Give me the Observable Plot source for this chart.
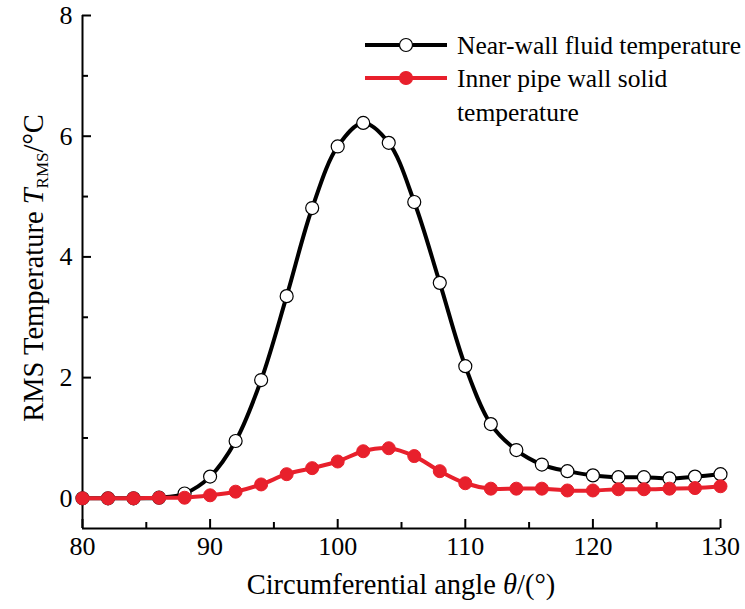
<!DOCTYPE html>
<html><head><meta charset="utf-8">
<script src="https://cdn.jsdelivr.net/npm/d3@7"></script>
<script src="https://cdn.jsdelivr.net/npm/@observablehq/plot@0.6"></script>
<style>
body{margin:0;background:#fff;}
#chart{position:relative;width:745px;height:609px;font-family:"Liberation Serif","Times New Roman",serif;}
</style></head><body><div id="chart"></div>
<script>
const angles = [80,82,84,86,88,90,92,94,96,98,100,102,104,106,108,110,112,114,116,118,120,122,124,126,128,130];
const fluidT = [0,0,0,0.01,0.08,0.36,0.95,1.96,3.35,4.81,5.83,6.22,5.89,4.91,3.57,2.19,1.23,0.80,0.56,0.45,0.38,0.35,0.35,0.33,0.36,0.40];
const solidT = [0,0,0,0.01,0.01,0.05,0.11,0.23,0.40,0.50,0.61,0.78,0.83,0.70,0.45,0.25,0.16,0.16,0.16,0.13,0.13,0.15,0.15,0.16,0.17,0.20];
const seriesNames = ["Near-wall fluid temperature", "Inner pipe wall solid temperature"];
const xTicks = [80,90,100,110,120,130];
const xMinorTicks = [85,95,105,115,125];
const yTicks = [0,2,4,6,8];
const yMinorTicks = [1,3,5,7];
const xDomain = [80,130];
const yDomain = [-0.5,8];
const xLabel = "Circumferential angle ";
const yLabel = "RMS Temperature ";

const W = 745, H = 609, ML = 82, MR = 25, MT = 15, MB = 81;
const FW = W - ML - MR, FH = H - MT - MB;
const fluidData = angles.map((a,i)=>({a, v: fluidT[i]}));
const solidData = angles.map((a,i)=>({a, v: solidT[i]}));
const RED = "#e8202c";
const FONT = "Liberation Serif, Times New Roman, serif";
const tk = {stroke: "black", strokeWidth: 2};

const plot = Plot.plot({
  width: W, height: H,
  marginLeft: ML, marginRight: MR, marginTop: MT, marginBottom: MB,
  style: {fontFamily: FONT, background: "white", color: "black"},
  x: {domain: xDomain, label: null},
  y: {domain: yDomain, label: null},
  marks: [
    Plot.ruleX([xDomain[0]], tk),
    Plot.ruleY([yDomain[0]], tk),
    Plot.ruleX(xTicks, {x: d => d, insetTop: FH - 9, ...tk}),
    Plot.ruleX(xMinorTicks, {x: d => d, insetTop: FH - 6, ...tk}),
    Plot.ruleY(yTicks, {y: d => d, insetRight: FW - 9, ...tk}),
    Plot.ruleY(yMinorTicks, {y: d => d, insetRight: FW - 6, ...tk}),
    Plot.axisX({ticks: xTicks, tickSize: 0, tickPadding: 8, fontSize: 26, label: null, tickFormat: d => String(d)}),
    Plot.axisY({ticks: yTicks, tickSize: 0, tickPadding: 10, fontSize: 26, label: null, tickFormat: d => String(d)}),
    Plot.line(fluidData, {x: "a", y: "v", curve: "catmull-rom", stroke: "black", strokeWidth: 4}),
    Plot.dot(fluidData, {x: "a", y: "v", r: 6.5, fill: "white", stroke: "black", strokeWidth: 1.2}),
    Plot.line(solidData, {x: "a", y: "v", curve: "catmull-rom", stroke: RED, strokeWidth: 4}),
    Plot.dot(solidData, {x: "a", y: "v", r: 6.5, fill: RED, stroke: RED, strokeWidth: 1})
  ]
});
document.getElementById("chart").appendChild(plot);

const svg = d3.select(plot);
// x-axis title
const xt = svg.append("text").attr("x", 401).attr("y", 594).attr("text-anchor", "middle")
  .attr("font-family", FONT).attr("font-size", 28.5).attr("fill", "black");
xt.append("tspan").text(xLabel);
xt.append("tspan").attr("font-style", "italic").text("θ");
xt.append("tspan").text("/(°)");
// y-axis title
const yt = svg.append("text").attr("transform", "translate(43,268) rotate(-90)").attr("text-anchor", "middle")
  .attr("font-family", FONT).attr("font-size", 28.5).attr("fill", "black");
yt.append("tspan").text(yLabel);
yt.append("tspan").attr("font-style", "italic").text("T");
yt.append("tspan").attr("font-size", 17).attr("dy", 5).text("RMS");
yt.append("tspan").attr("dy", -5).text("/°C");

// legend
const lg = svg.append("g").attr("text-anchor", "start");
const items = [
  {y: 45, stroke: "black", fill: "white", dotStroke: "black", lines: [seriesNames[0]]},
  {y: 78, stroke: RED, fill: RED, dotStroke: RED, lines: ["Inner pipe wall solid", "temperature"]}
];
items.forEach(it => {
  lg.append("line").attr("x1", 365).attr("x2", 447).attr("y1", it.y).attr("y2", it.y)
    .attr("stroke", it.stroke).attr("stroke-width", 4);
  lg.append("circle").attr("cx", 406).attr("cy", it.y).attr("r", 6.5)
    .attr("fill", it.fill).attr("stroke", it.dotStroke).attr("stroke-width", 1.2);
  it.lines.forEach((t, j) => {
    lg.append("text").attr("x", 457).attr("y", it.y + j * 34).attr("dy", "0.35em")
      .attr("text-anchor", "start")
      .attr("font-family", FONT).attr("font-size", 25.5).attr("fill", "black").text(t);
  });
});
</script></body></html>
